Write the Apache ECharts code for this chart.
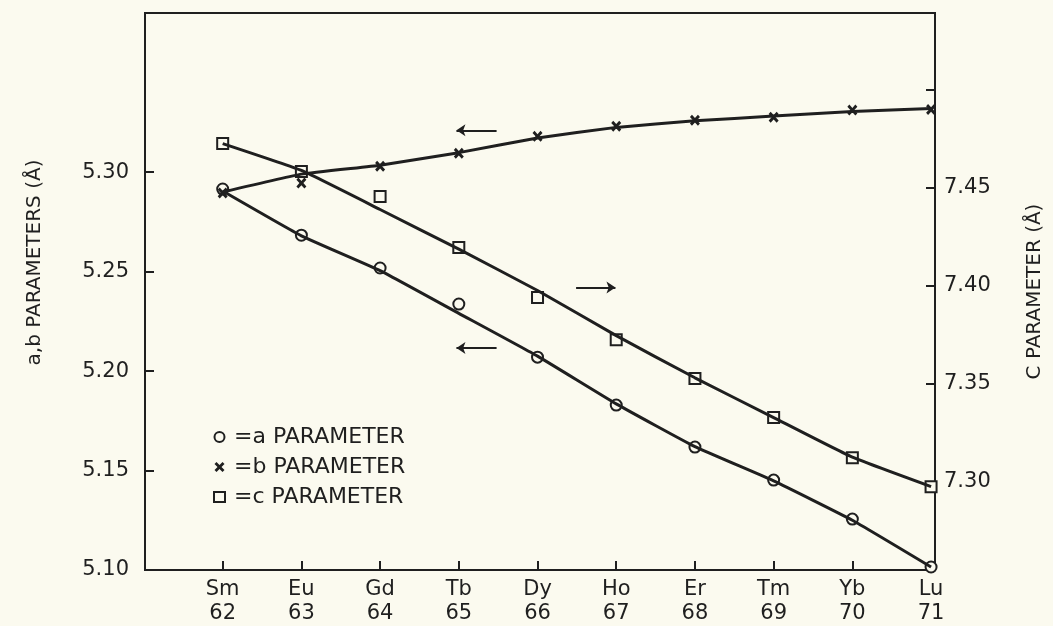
<!DOCTYPE html>
<html>
<head>
<meta charset="utf-8">
<script src="https://cdn.jsdelivr.net/npm/echarts@6/dist/echarts.min.js"></script>
<style>
  html, body { margin: 0; padding: 0; background: #fbfaef; }
  #main { width: 1053px; height: 626px; }
</style>
</head>
<body>
<div id="main"></div>
<script>
// rare earth elements and atomic numbers
var elements = ['Sm', 'Eu', 'Gd', 'Tb', 'Dy', 'Ho', 'Er', 'Tm', 'Yb', 'Lu'];
var atomicNumbers = [62, 63, 64, 65, 66, 67, 68, 69, 70, 71];

// measured lattice parameters (Å)
var aParam = [5.2915, 5.2683, 5.2518, 5.2337, 5.2070, 5.1829, 5.1618, 5.1452, 5.1256, 5.1015];
var bParam = [5.2895, 5.2945, 5.3030, 5.3095, 5.3180, 5.3231, 5.3261, 5.3276, 5.3312, 5.3315];
var cParam = [7.4724, 7.4582, 7.4454, 7.4194, 7.3939, 7.3724, 7.3526, 7.3327, 7.3122, 7.2975];

// drawn curves through the points
var aCurve = [5.2905, 5.2680, 5.2505, 5.2290, 5.2075, 5.1835, 5.1620, 5.1448, 5.1250, 5.1015];
var bCurve = [5.2900, 5.2990, 5.3035, 5.3098, 5.3172, 5.3225, 5.3258, 5.3282, 5.3305, 5.3320];
var cCurve = [7.4724, 7.4587, 7.4388, 7.4186, 7.3975, 7.3745, 7.3530, 7.3327, 7.3125, 7.2975];

// axis ticks
var leftTicks = [5.10, 5.15, 5.20, 5.25, 5.30];
var rightTicks = [7.30, 7.35, 7.40, 7.45, 7.50];
var rightLabels = [7.30, 7.35, 7.40, 7.45];

// arrows [x from, x to, y]
var arrowA = [65.48, 64.97, 5.2116];
var arrowB = [65.48, 64.97, 5.3210];
var arrowC = [66.49, 66.99, 7.3990];

var ink = '#1f1f1f';
var paper = '#fbfaef';
var font = 'DejaVu Sans';

function pairs(ys) {
    return atomicNumbers.map(function (z, i) { return [z, ys[i]]; });
}

function arrow(a) {
    return {
        silent: true,
        symbol: ['none', 'arrow'],
        symbolSize: 9,
        label: { show: false },
        emphasis: { disabled: true },
        lineStyle: { type: 'solid', color: ink, width: 2 },
        data: [[{ coord: [a[0], a[2]] }, { coord: [a[1], a[2]] }]]
    };
}

var crossPath = 'path://M0,2L2,0L5,3L8,0L10,2L7,5L10,8L8,10L5,7L2,10L0,8L3,5Z';

var myChart = echarts.init(document.getElementById('main'));
myChart.setOption({
    backgroundColor: paper,
    animation: false,
    grid: {
        left: 145, right: 115, top: 13, bottom: 56,
        show: true, borderColor: ink, borderWidth: 2
    },
    legend: {
        orient: 'vertical',
        left: 208, top: 421,
        itemWidth: 11, itemHeight: 10, itemGap: 8,
        textStyle: { fontFamily: font, fontSize: 22, lineHeight: 21, color: ink, padding: [0, 0, 0, 4] },
        data: ['=a PARAMETER', '=b PARAMETER', '=c PARAMETER']
    },
    xAxis: {
        type: 'value',
        min: 61.013, max: 71.05,
        splitLine: { show: false },
        axisLine: { show: true, lineStyle: { color: ink, width: 2 } },
        axisTick: { show: true, inside: true, length: 9, customValues: atomicNumbers, lineStyle: { color: ink, width: 2 } },
        axisLabel: {
            customValues: atomicNumbers,
            margin: 8,
            fontFamily: font, fontSize: 21, lineHeight: 24, color: ink,
            formatter: function (v) {
                var i = atomicNumbers.indexOf(Math.round(v));
                return elements[i] + '\n' + Math.round(v);
            }
        }
    },
    yAxis: [{
        type: 'value',
        min: 5.10, max: 5.38,
        position: 'left',
        name: 'a,b PARAMETERS (Å)',
        nameLocation: 'middle',
        nameGap: 100,
        nameTextStyle: { fontFamily: font, fontSize: 20, color: ink, padding: [0, 0, 0, 58] },
        splitLine: { show: false },
        axisLine: { show: true, lineStyle: { color: ink, width: 2 } },
        axisTick: { show: true, inside: true, length: 9, customValues: leftTicks, lineStyle: { color: ink, width: 2 } },
        axisLabel: {
            customValues: leftTicks, margin: 16,
            fontFamily: font, fontSize: 21, color: ink,
            formatter: function (v) { return v.toFixed(2); }
        }
    }, {
        type: 'value',
        min: 7.255, max: 7.539,
        position: 'right',
        name: 'C PARAMETER (Å)',
        nameLocation: 'middle',
        nameGap: 90,
        nameTextStyle: { fontFamily: font, fontSize: 20, color: ink },
        splitLine: { show: false },
        axisLine: { show: true, lineStyle: { color: ink, width: 2 } },
        axisTick: { show: true, inside: true, length: 9, customValues: rightTicks, lineStyle: { color: ink, width: 2 } },
        axisLabel: {
            customValues: rightLabels, margin: 9,
            fontFamily: font, fontSize: 21, color: ink,
            formatter: function (v) { return v.toFixed(2); }
        }
    }],
    series: [{
        name: 'a curve', type: 'line', data: pairs(aCurve),
        smooth: 0.12, showSymbol: false, silent: true,
        lineStyle: { color: ink, width: 3 },
        markLine: arrow(arrowA)
    }, {
        name: 'b curve', type: 'line', data: pairs(bCurve),
        smooth: 0.12, showSymbol: false, silent: true,
        lineStyle: { color: ink, width: 3 },
        markLine: arrow(arrowB)
    }, {
        name: 'c curve', type: 'line', yAxisIndex: 1, data: pairs(cCurve),
        smooth: 0.12, showSymbol: false, silent: true,
        lineStyle: { color: ink, width: 3 },
        markLine: arrow(arrowC)
    }, {
        name: '=a PARAMETER', type: 'scatter', data: pairs(aParam),
        symbol: 'circle', symbolSize: 11,
        itemStyle: { color: paper, borderColor: ink, borderWidth: 2, opacity: 1 }
    }, {
        name: '=b PARAMETER', type: 'scatter', data: pairs(bParam),
        symbol: crossPath, symbolSize: [10, 11],
        itemStyle: { color: ink, opacity: 1 }
    }, {
        name: '=c PARAMETER', type: 'scatter', yAxisIndex: 1, data: pairs(cParam),
        symbol: 'rect', symbolSize: 11,
        itemStyle: { color: paper, borderColor: ink, borderWidth: 2, opacity: 1 }
    }]
});
</script>
</body>
</html>
